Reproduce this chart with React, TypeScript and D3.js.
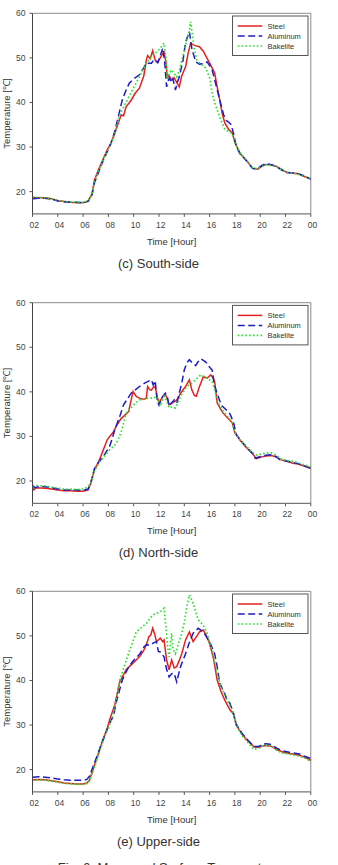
import React from "react";
import * as d3 from "d3";

type Pt = [number, number];

const xTicks = [2, 4, 6, 8, 10, 12, 14, 16, 18, 20, 22, 24];
const yTicks = [20, 30, 40, 50, 60];
const seriesNames = ["Steel", "Aluminum", "Bakelite"];
const panelTitles = ["(c)  South-side", "(d)  North-side", "(e)  Upper-side"];

// South-side
const steelSouth: Pt[] = [
  [2, 18.7], [2.5, 18.6], [3, 18.6], [3.5, 18.4], [4, 18.0], [4.5, 17.8], [5, 17.6], [5.5, 17.5], [6, 17.5],
  [6.4, 17.9], [6.7, 19.5], [6.9, 22.6], [7.2, 24.8], [7.55, 27.1], [7.9, 29.3], [8.2, 30.9], [8.5, 33],
  [8.8, 35.5], [9.0, 37.2], [9.2, 37], [9.4, 39], [9.8, 40.5], [10.1, 42], [10.45, 43.2], [10.8, 46],
  [11.0, 49.5], [11.1, 50.5], [11.3, 49.8], [11.5, 51.6], [11.7, 49.5], [11.9, 49], [12.2, 50.5], [12.4, 51.3],
  [12.55, 49], [12.65, 45.7], [12.8, 46], [13.0, 45], [13.2, 45.5], [13.4, 44.5], [13.6, 43.5], [13.8, 46],
  [14.1, 48], [14.3, 51], [14.5, 53.3], [14.8, 52.8], [15.2, 52.5], [15.5, 51.5], [15.8, 49.9], [16.1, 48.3],
  [16.4, 46.6], [16.6, 43.5], [16.8, 40.6], [17.0, 37.5], [17.2, 35.4], [17.5, 34], [17.8, 33.1], [18.0, 31.0],
  [18.4, 28.6], [18.9, 27], [19.4, 25.2], [19.8, 25.0], [20.1, 25.6], [20.45, 26.1], [20.8, 26], [21.25, 25.7],
  [21.7, 25], [22.1, 24.3], [22.6, 24.2], [23.0, 24.0], [23.5, 23.4], [24, 22.8],
];
const aluminumSouth: Pt[] = [
  [2, 18.4], [2.5, 18.5], [3, 18.5], [3.5, 18.3], [4, 17.9], [4.5, 17.7], [5, 17.6], [5.5, 17.6], [6, 17.5],
  [6.4, 17.8], [6.7, 19.2], [6.9, 22], [7.2, 24.2], [7.55, 26.7], [7.9, 28.9], [8.2, 30.8], [8.5, 33.5],
  [8.8, 37], [9.1, 40.6], [9.4, 42.8], [9.65, 44.3], [10.0, 45.3], [10.45, 46.2], [10.8, 47.8], [11.0, 48.8],
  [11.4, 48.8], [11.6, 49.6], [11.9, 48.9], [12.1, 50.5], [12.3, 52.2], [12.45, 49], [12.6, 43.5], [12.8, 45.5],
  [13.0, 44.5], [13.1, 45.3], [13.3, 42.8], [13.45, 44.5], [13.6, 45.7], [13.9, 49.5], [14.1, 53.5], [14.4, 55.9],
  [14.6, 52], [14.9, 49.1], [15.2, 48.6], [15.5, 48.7], [15.8, 49.1], [16.0, 48.3], [16.2, 47.3], [16.5, 44],
  [16.8, 40.6], [17.1, 37.3], [17.3, 36], [17.5, 35.6], [17.7, 35], [17.9, 33], [18.1, 30.2], [18.4, 28.5],
  [18.9, 27], [19.4, 25.2], [19.8, 25.2], [20.1, 25.8], [20.45, 26.3], [20.8, 26.1], [21.25, 25.7], [21.7, 24.8],
  [22.1, 24.3], [22.6, 24.2], [23.0, 24.0], [23.5, 23.5], [24, 22.8],
];
const bakeliteSouth: Pt[] = [
  [2, 18.8], [2.5, 18.7], [3, 18.6], [3.5, 18.4], [4, 18.0], [4.5, 17.8], [5, 17.7], [5.5, 17.6], [6, 17.6],
  [6.4, 17.9], [6.7, 19.3], [6.9, 22.2], [7.2, 24.4], [7.55, 26.8], [7.9, 29], [8.2, 30.7], [8.5, 33],
  [8.9, 37.2], [9.3, 39.5], [9.9, 42.8], [10.4, 45.5], [11.0, 48.8], [11.5, 50.6], [11.9, 51.5], [12.4, 53.3],
  [12.55, 50], [12.65, 45.2], [12.8, 46.5], [13.0, 47.3], [13.2, 46.5], [13.4, 45.7], [13.6, 47], [13.8, 49.5],
  [14.0, 51.5], [14.2, 54], [14.4, 56], [14.5, 58.1], [14.65, 55], [14.8, 51.8], [15.0, 49.5], [15.2, 48.8],
  [15.5, 48.2], [15.7, 47.7], [16.0, 45.5], [16.2, 42.1], [16.4, 40], [16.6, 38.3], [16.9, 36], [17.2, 34],
  [17.5, 33.5], [17.8, 33], [18.0, 31], [18.4, 28.7], [18.9, 27.1], [19.4, 25.3], [19.8, 25.1], [20.1, 25.6],
  [20.45, 26.0], [20.8, 25.9], [21.25, 25.6], [21.7, 24.9], [22.1, 24.4], [22.6, 24.1], [23.0, 23.9],
  [23.5, 23.4], [24, 22.9],
];

// North-side
const steelNorth: Pt[] = [
  [2, 18.5], [2.1, 18.0], [2.3, 18.5], [3, 18.4], [3.5, 18.2], [4, 18], [4.5, 17.8], [5, 17.8], [5.5, 17.7],
  [6, 17.7], [6.4, 18.0], [6.6, 19.5], [6.9, 22.5], [7.3, 24.8], [7.6, 27.0], [7.9, 29.2], [8.1, 30.0],
  [8.4, 31], [8.6, 32.2], [9.0, 34], [9.2, 34.5], [9.6, 35.6], [9.95, 40.1], [10.2, 39], [10.45, 38.6],
  [10.8, 38.3], [11.0, 38.6], [11.1, 41.2], [11.25, 40.5], [11.4, 40.4], [11.55, 41], [11.7, 41.2],
  [11.85, 39], [12.0, 37.5], [12.3, 39.0], [12.5, 39.4], [12.65, 38.5], [12.8, 37.1], [13.0, 37.5],
  [13.3, 37.9], [13.5, 38.5], [13.7, 39.7], [14.1, 41.2], [14.4, 42.7], [14.6, 40.4], [14.8, 39.2],
  [14.95, 39.0], [15.2, 41.2], [15.5, 43.4], [15.8, 43.1], [16.1, 43.8], [16.3, 43], [16.4, 42.3],
  [16.6, 37.5], [17.0, 35.5], [17.3, 34.5], [17.8, 33], [18, 30.8], [18.4, 29.2], [18.9, 27.5], [19.4, 26.1],
  [19.7, 25.0], [20.0, 25.3], [20.45, 25.6], [20.9, 25.7], [21.25, 25.4], [21.6, 24.8], [22.1, 24.4],
  [22.6, 24.0], [23, 23.8], [23.5, 23.3], [24, 22.9],
];
const aluminumNorth: Pt[] = [
  [2, 18.9], [2.2, 18.5], [2.5, 18.8], [3, 18.7], [3.5, 18.5], [4, 18.2], [4.5, 18.0], [5, 18.0], [5.5, 18.0],
  [6, 17.9], [6.4, 18.2], [6.6, 19.5], [6.9, 22.8], [7.3, 24.5], [7.6, 25.5], [8.1, 27.8], [8.3, 29.5],
  [8.5, 31.5], [8.7, 33], [8.9, 34.5], [9.2, 37.1], [9.8, 39.7], [10.45, 41.2], [10.9, 42], [11.1, 42.3],
  [11.4, 42.7], [11.55, 41.5], [11.7, 42.5], [11.85, 38], [12.0, 37], [12.2, 38.5], [12.5, 39.7], [12.65, 39],
  [12.8, 36.8], [13.0, 37.5], [13.2, 38.2], [13.4, 37.5], [13.6, 39.7], [13.8, 42], [14.0, 44.9], [14.2, 46.5],
  [14.4, 47.2], [14.6, 46.6], [14.9, 45.9], [15.1, 46.8], [15.3, 47.4], [15.6, 46.9], [15.8, 46.4], [16.0, 45.5],
  [16.2, 44.9], [16.35, 42], [16.5, 40.4], [16.8, 38], [17.0, 36.8], [17.3, 36], [17.5, 35.6], [17.7, 34.5],
  [17.9, 33], [18.1, 30.5], [18.4, 29.3], [18.9, 27.6], [19.4, 26.2], [19.6, 25.1], [19.9, 25.4], [20.45, 25.8],
  [20.9, 25.9], [21.25, 25.5], [21.6, 24.7], [22.1, 24.5], [22.6, 24.1], [23, 23.9], [23.5, 23.4], [24, 22.8],
];
const bakeliteNorth: Pt[] = [
  [2, 19.0], [3, 18.9], [3.5, 18.6], [4, 18.4], [4.5, 18.2], [5, 18.2], [5.5, 18.1], [6, 18.2], [6.4, 18.7],
  [6.6, 19.5], [6.9, 22.3], [7.3, 24.3], [7.6, 25.3], [8.1, 27], [8.6, 28.3], [8.8, 29.5], [9.0, 30.9],
  [9.2, 33], [9.4, 35.2], [10.0, 37.1], [10.45, 38.2], [10.9, 38.5], [11.3, 38.6], [11.6, 38.6], [11.8, 39],
  [12.1, 36.8], [12.4, 39], [12.6, 38], [12.8, 36.4], [13.0, 36.6], [13.3, 36.4], [13.5, 37.5], [13.7, 39],
  [14.2, 41.2], [14.6, 42], [15.0, 43], [15.3, 43.8], [15.8, 43.1], [16.2, 42.3], [16.4, 40.5], [16.6, 38.2],
  [17.0, 36], [17.3, 34.9], [17.8, 33], [18, 30.8], [18.4, 29.2], [18.9, 27.8], [19.4, 26.4], [19.7, 25.8],
  [20.0, 26.0], [20.45, 26.3], [20.9, 26.3], [21.25, 25.8], [21.6, 25.0], [22.1, 24.6], [22.6, 24.4],
  [23, 24.1], [23.5, 23.6], [24, 23.2],
];

// Upper-side
const steelUpper: Pt[] = [
  [2, 17.7], [2.5, 17.8], [3, 17.7], [3.5, 17.5], [4, 17.3], [4.5, 17.0], [5, 16.9], [5.5, 16.8], [6, 16.8],
  [6.3, 17.0], [6.5, 17.6], [6.9, 21], [7.2, 23.5], [7.55, 26.6], [7.9, 29.2], [8.1, 31.2], [8.5, 34.5],
  [8.9, 39.7], [9.4, 42.4], [9.8, 43.5], [10.2, 44.6], [10.5, 45.5], [10.8, 46.8], [11.0, 48], [11.2, 49.8],
  [11.35, 50.2], [11.5, 51.7], [11.65, 50.5], [11.8, 48.7], [12.1, 49.5], [12.3, 48.7], [12.4, 49.1],
  [12.6, 44.6], [12.8, 42.4], [12.9, 43.5], [13.0, 44.6], [13.2, 42.8], [13.4, 43.1], [13.6, 44.5], [13.8, 46],
  [14.1, 49.1], [14.4, 50.9], [14.7, 48.7], [15.0, 50], [15.2, 50.9], [15.5, 51.3], [15.75, 50], [16.0, 48.3],
  [16.3, 45], [16.6, 40.1], [16.9, 37.5], [17.2, 35.6], [17.6, 33.4], [17.9, 32.5], [18.1, 30], [18.6, 27.8],
  [19.0, 26.5], [19.5, 25.1], [19.9, 25.0], [20.2, 25.3], [20.5, 25.4], [20.9, 25.2], [21.3, 24.5],
  [21.8, 23.9], [22.3, 23.6], [23.1, 23.2], [23.5, 22.8], [24, 22.1],
];
const aluminumUpper: Pt[] = [
  [2, 18.3], [2.5, 18.4], [3, 18.3], [3.5, 18.1], [4, 17.9], [4.5, 17.7], [5, 17.6], [5.5, 17.6], [6, 17.6],
  [6.3, 17.8], [6.5, 18.5], [6.9, 21.5], [7.2, 23.8], [7.55, 26.5], [7.9, 29], [8.2, 31], [8.4, 32],
  [8.6, 34.9], [9.1, 40.1], [9.5, 42.5], [9.9, 44.2], [10.5, 46], [10.8, 47.5], [11.0, 48], [11.3, 47.9],
  [11.6, 48.5], [11.8, 48.7], [11.95, 46.5], [12.1, 46.4], [12.4, 45.3], [12.6, 42.5], [12.8, 40.8],
  [13.0, 41.5], [13.2, 41.6], [13.4, 39.7], [13.7, 43.1], [14.1, 46], [14.4, 48.5], [14.7, 50.6], [15.1, 51.7],
  [15.5, 50.9], [16.0, 48.7], [16.4, 46], [16.6, 43], [16.8, 39.4], [17.2, 37], [17.4, 35.5], [17.6, 34.9],
  [17.8, 33.4], [18.1, 30.2], [18.6, 28], [19.0, 26.7], [19.5, 25.2], [19.9, 25.2], [20.2, 25.7], [20.5, 25.8],
  [20.9, 25.6], [21.3, 24.8], [21.8, 24.2], [22.3, 23.9], [23.1, 23.5], [23.5, 23.0], [24, 22.5],
];
const bakeliteUpper: Pt[] = [
  [2, 17.6], [2.5, 17.7], [3, 17.6], [3.5, 17.4], [4, 17.2], [4.5, 16.9], [5, 16.8], [5.5, 16.7], [6, 16.7],
  [6.3, 16.9], [6.5, 17.5], [6.9, 20.7], [7.2, 23.2], [7.55, 26.2], [7.9, 28.8], [8.2, 30.8], [8.5, 33.8],
  [8.9, 40.1], [9.5, 45.3], [10.2, 50.9], [11.0, 52.8], [11.5, 54.7], [12.1, 55.4], [12.4, 56.2], [12.55, 52],
  [12.7, 47], [12.8, 45.3], [12.9, 48], [13.0, 50.6], [13.1, 47], [13.3, 46], [13.5, 48], [13.8, 50.6],
  [14.0, 53], [14.2, 56.6], [14.4, 59.2], [14.7, 57.3], [15.1, 53.6], [15.5, 52.4], [15.8, 50.6], [16.2, 46.8],
  [16.5, 43], [16.8, 39.4], [17.3, 36], [17.8, 33.4], [18.1, 30], [18.6, 27.5], [19.0, 26.2], [19.5, 24.5],
  [19.9, 24.8], [20.2, 25.3], [20.5, 25.5], [20.9, 25.3], [21.3, 24.3], [21.8, 23.7], [22.3, 23.5],
  [23.1, 23.0], [23.5, 22.6], [24, 21.9],
];

const panelSeries: Pt[][][] = [
  [steelSouth, aluminumSouth, bakeliteSouth],
  [steelNorth, aluminumNorth, bakeliteNorth],
  [steelUpper, aluminumUpper, bakeliteUpper],
];

const colors = ["#e62020", "#1c1cc8", "#2ee02e"];
const dashes = ["none", "7,3.5", "1.6,2.2"];
const panelTops = [13.3, 302.7, 591.3];

const left = 32.5;
const right = 310.8;
const plotH = 200.6;
const tickFont = "'Liberation Sans', Arial, sans-serif";

const Panel: React.FC<{ top: number; series: Pt[][]; title: string }> = ({ top, series, title }) => {
  const x = d3.scaleLinear().domain([2, 24]).range([left, right]);
  const y = d3.scaleLinear().domain([15, 60]).range([top + plotH, top]);
  const line = d3
    .line<Pt>()
    .x((d) => x(d[0]))
    .y((d) => y(d[1]));
  const bottom = top + plotH;

  return (
    <g>
      {/* frame */}
      <line x1={left} x2={right} y1={top} y2={top} stroke="#8a8a8a" strokeWidth={1} />
      <line x1={right} x2={right} y1={top} y2={bottom} stroke="#8a8a8a" strokeWidth={1} />

      {series.map((s, i) => (
        <path
          key={i}
          d={line(s) || ""}
          fill="none"
          stroke={colors[i]}
          strokeWidth={i === 2 ? 1.7 : 1.5}
          strokeDasharray={dashes[i]}
        />
      ))}

      {/* axes */}
      <line x1={left} x2={left} y1={top} y2={bottom} stroke="#444" strokeWidth={1} />
      <line x1={left} x2={right} y1={bottom} y2={bottom} stroke="#555" strokeWidth={1} />
      {yTicks.map((t) => (
        <g key={t}>
          <line x1={left - 3} x2={left} y1={y(t)} y2={y(t)} stroke="#555" />
          <text
            x={left - 7}
            y={y(t)}
            dy="0.35em"
            textAnchor="end"
            fontSize={8.5}
            fill="#444"
            fontFamily={tickFont}
          >
            {t}
          </text>
        </g>
      ))}
      {xTicks.map((t) => (
        <g key={t}>
          <line x1={x(t)} x2={x(t)} y1={bottom} y2={bottom + 3} stroke="#555" />
          <text
            x={x(t) + 1.8}
            y={bottom + 14}
            textAnchor="middle"
            fontSize={8.5}
            fill="#444"
            fontFamily={tickFont}
          >
            {String(t % 24).padStart(2, "0")}
          </text>
        </g>
      ))}

      <text
        x={(left + right) / 2}
        y={bottom + 31}
        textAnchor="middle"
        fontSize={9.5}
        fill="#333"
        fontFamily={tickFont}
      >
        Time [Hour]
      </text>
      <text
        transform={`translate(10,${top + plotH / 2}) rotate(-90)`}
        textAnchor="middle"
        fontSize={9.5}
        fill="#333"
        fontFamily={tickFont}
      >
        Temperature [℃]
      </text>

      {/* legend */}
      <rect x={232.5} y={top + 2.7} width={75.5} height={39.5} fill="white" stroke="#555" strokeWidth={1} />
      {seriesNames.map((n, i) => (
        <g key={n}>
          <line
            x1={237.7}
            x2={262.3}
            y1={top + 12.7 + i * 10}
            y2={top + 12.7 + i * 10}
            stroke={colors[i]}
            strokeWidth={i === 2 ? 1.7 : 1.5}
            strokeDasharray={dashes[i]}
          />
          <text x={267.5} y={top + 12.7 + i * 10} dy="0.35em" fontSize={7.5} fill="#333" fontFamily={tickFont}>
            {n}
          </text>
        </g>
      ))}

      <text
        x={158.5}
        y={bottom + 54}
        textAnchor="middle"
        fontSize={13}
        fill="#333"
        fontFamily={tickFont}
      >
        {title}
      </text>
    </g>
  );
};

export default function App() {
  return (
    <svg
      width={338}
      height={865}
      style={{ position: "absolute", left: 0, top: 0, background: "white" }}
    >
      <rect x={0} y={0} width={338} height={865} fill="white" />
      {panelSeries.map((s, i) => (
        <Panel key={i} top={panelTops[i]} series={s} title={panelTitles[i]} />
      ))}
      <text x={169} y={872} textAnchor="middle" fontSize={13} fill="#333" fontFamily={tickFont}>
        Fig. 6. Measured Surface Temperature
      </text>
    </svg>
  );
}
